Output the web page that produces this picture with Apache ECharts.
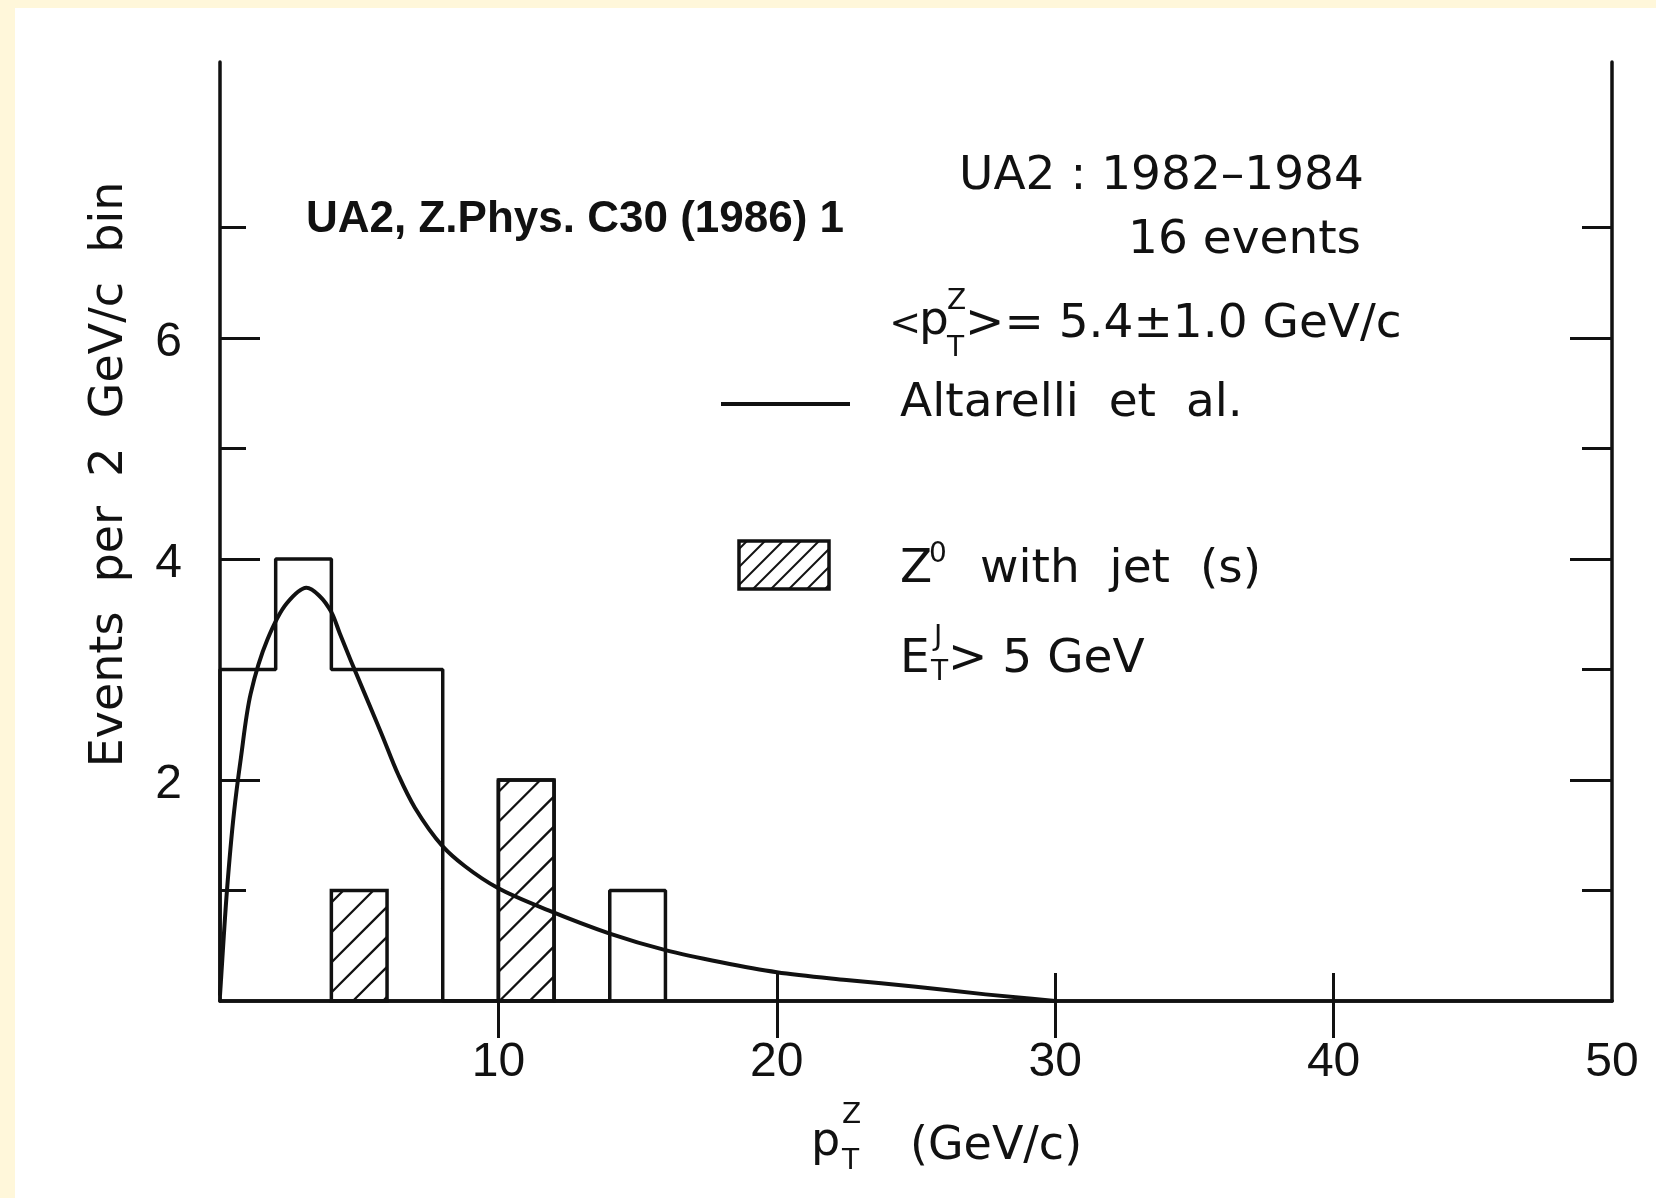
<!DOCTYPE html>
<html>
<head>
<meta charset="utf-8">
<script src="https://cdn.jsdelivr.net/npm/echarts@6/dist/echarts.min.js"></script>
<style>
  html, body { margin: 0; padding: 0; background: #fff; }
  #chart { width: 1656px; height: 1198px; }
</style>
</head>
<body>
<div id="chart"></div>
<script>
// Z0 transverse momentum spectrum, UA2 1982-1984 data, 2 GeV/c bins
const binEdges   = [0, 2, 4, 6, 8, 10, 12, 14, 16];
const allCounts  = [3, 4, 3, 3, 0, 2, 0, 1];      // all 16 events
const jetCounts  = [0, 0, 1, 0, 0, 2, 0, 0];      // events with jet(s), E_T^J > 5 GeV

// Altarelli et al. prediction, events per 2 GeV/c bin
const curveX = [0, 0.25, 0.5, 0.75, 1.1, 1.7, 2.4, 3.1, 3.6, 4.0, 4.3, 4.7, 5.2, 5.8, 6.4, 7.0, 8.0, 8.8, 10.0, 11.8, 14.0, 16.0, 18.0, 20.0, 22.5, 25.0, 27.5, 30.0];
const curveY = [0.05, 1.0, 1.7, 2.2, 2.78, 3.27, 3.6, 3.74, 3.66, 3.52, 3.33, 3.08, 2.78, 2.42, 2.05, 1.75, 1.40, 1.22, 1.02, 0.82, 0.61, 0.46, 0.35, 0.26, 0.19, 0.13, 0.06, 0.0];

// axis ticks and labels
const xTicks  = [10, 20, 30, 40];
const xLabels = [10, 20, 30, 40, 50];
const yMajor  = [2, 4, 6];
const yMinor  = [1, 3, 5, 7];

const INK = '#111';
const CREAM = '#FFF7DA';
const TECH = "'DejaVu Sans', sans-serif";
const DIGITS = "'Liberation Sans', Arial, sans-serif";

// outline of the full histogram as a step path
const histPts = [[binEdges[0], 0]];
allCounts.forEach((c, i) => histPts.push([binEdges[i], c]));
histPts.push([binEdges[binEdges.length - 1], 0]);

// hatched bins: [low edge, high edge, count]
const jetBins = [];
jetCounts.forEach((c, i) => { if (c > 0) jetBins.push([binEdges[i], binEdges[i + 1], c]); });

const curvePts = curveX.map((x, i) => [x, curveY[i]]);

// diagonal "///" hatching inside a rectangle
function hatchLines(L, T, R, B, step, phase, width) {
  const out = [];
  for (let c = L + T + phase; c < R + B; c += step) {
    const xa = Math.max(L, c - B), xb = Math.min(R, c - T);
    if (xb - xa > 1) {
      out.push({ type: 'line', shape: { x1: xa, y1: c - xa, x2: xb, y2: c - xb },
                 style: { stroke: INK, lineWidth: width } });
    }
  }
  return out;
}

// centripetal Catmull-Rom spline through pixel points, as SVG path data
function splinePath(P) {
  const n = P.length;
  const get = (i) => {
    if (i < 0) return [2 * P[0][0] - P[1][0], 2 * P[0][1] - P[1][1]];
    if (i >= n) return [2 * P[n - 1][0] - P[n - 2][0], 2 * P[n - 1][1] - P[n - 2][1]];
    return P[i];
  };
  const dist = (a, b) => Math.sqrt(Math.hypot(b[0] - a[0], b[1] - a[1])) || 1e-6;
  let d = 'M' + P[0][0] + ' ' + P[0][1];
  for (let i = 0; i < n - 1; i++) {
    const p0 = get(i - 1), p1 = get(i), p2 = get(i + 1), p3 = get(i + 2);
    const d1 = dist(p0, p1), d2 = dist(p1, p2), d3 = dist(p2, p3);
    const c1 = [0, 1].map(k => (d1 * d1 * p2[k] - d2 * d2 * p0[k] + (2 * d1 * d1 + 3 * d1 * d2 + d2 * d2) * p1[k]) / (3 * d1 * (d1 + d2)));
    const c2 = [0, 1].map(k => (d3 * d3 * p1[k] - d2 * d2 * p3[k] + (2 * d3 * d3 + 3 * d3 * d2 + d2 * d2) * p2[k]) / (3 * d3 * (d3 + d2)));
    d += ' C' + c1[0] + ' ' + c1[1] + ' ' + c2[0] + ' ' + c2[1] + ' ' + p2[0] + ' ' + p2[1];
  }
  return d;
}

function txt(str, x, y, size, family, weight, align) {
  const a = align || 'left';
  return {
    type: 'text', x: x, y: y, silent: true,
    style: {
      text: str, fill: INK,
      font: (weight || 'normal') + ' ' + size + 'px ' + (family || TECH),
      textAlign: a, textVerticalAlign: 'middle',
      align: a, verticalAlign: 'middle'
    }
  };
}

const axisLineStyle = { color: INK, width: 3.5 };
const tickStyle = { color: INK, width: 3 };

const chart = echarts.init(document.getElementById('chart'), null, { renderer: 'canvas' });

chart.setOption({
  animation: false,
  backgroundColor: '#fff',
  grid: { left: 220, right: 44, top: 62, bottom: 197 },
  xAxis: [
    {
      type: 'value', min: 0, max: 50, position: 'bottom',
      axisLine: { lineStyle: axisLineStyle },
      axisTick: { inside: true, length: 28, customValues: xTicks, lineStyle: tickStyle },
      axisLabel: { customValues: xLabels, margin: 38, fontFamily: DIGITS, fontSize: 48, color: INK },
      splitLine: { show: false }
    },
    {
      type: 'value', min: 0, max: 50, position: 'top',
      axisLine: { lineStyle: axisLineStyle },
      axisTick: { inside: true, length: 37, customValues: xTicks, lineStyle: tickStyle },
      axisLabel: { show: false, customValues: xTicks },
      splitLine: { show: false }
    }
  ],
  yAxis: [
    {
      type: 'value', min: 0, max: 8.5, position: 'left', offset: 0,
      axisLine: { lineStyle: axisLineStyle },
      axisTick: { inside: true, length: 40, customValues: yMajor, lineStyle: tickStyle },
      axisLabel: { customValues: yMajor, margin: 38, fontFamily: DIGITS, fontSize: 48, color: INK,
                   verticalAlign: 'top', lineHeight: 10 },
      splitLine: { show: false },
      name: 'Events  per  2  GeV/c  bin',
      nameLocation: 'middle', nameRotate: 90, nameGap: 87,
      nameTextStyle: { fontFamily: TECH, fontSize: 46, color: INK, padding: [0, 0, 0, 114] }
    },
    {
      type: 'value', min: 0, max: 8.5, position: 'left', offset: 0,
      axisLine: { show: false },
      axisTick: { inside: true, length: 26, customValues: yMinor, lineStyle: tickStyle },
      axisLabel: { show: false, customValues: yMinor },
      splitLine: { show: false }
    },
    {
      type: 'value', min: 0, max: 8.5, position: 'right', offset: 0,
      axisLine: { lineStyle: axisLineStyle },
      axisTick: { inside: true, length: 42, customValues: yMajor, lineStyle: tickStyle },
      axisLabel: { show: false, customValues: yMajor },
      splitLine: { show: false }
    },
    {
      type: 'value', min: 0, max: 8.5, position: 'right', offset: 0,
      axisLine: { show: false },
      axisTick: { inside: true, length: 30, customValues: yMinor, lineStyle: tickStyle },
      axisLabel: { show: false, customValues: yMinor },
      splitLine: { show: false }
    }
  ],
  series: [
    {
      name: 'Z0 with jet (s)',
      type: 'custom', z: 2,
      encode: { x: [0, 1], y: 2 },
      data: jetBins,
      renderItem: function (params, api) {
        const p0 = api.coord([api.value(0), 0]);
        const p1 = api.coord([api.value(1), api.value(2)]);
        const L = p0[0], R = p1[0], T = p1[1], B = p0[1];
        const kids = hatchLines(L, T, R, B, 30, 12, 2.3);
        kids.push({ type: 'rect', shape: { x: L, y: T, width: R - L, height: B - T },
                    style: { fill: 'none', stroke: INK, lineWidth: 3.5 } });
        return { type: 'group', children: kids };
      }
    },
    {
      name: 'all events',
      type: 'line', z: 3,
      data: histPts, step: 'end', symbol: 'none',
      lineStyle: { color: INK, width: 3.5 }
    },
    {
      name: 'Altarelli et al.',
      type: 'custom', z: 4,
      encode: { x: 0, y: 1 },
      data: curvePts,
      renderItem: function (params, api) {
        if (params.dataIndex !== 0) return null;
        const px = curvePts.map(p => api.coord(p));
        return {
          type: 'path',
          shape: { pathData: splinePath(px) },
          style: { fill: 'none', stroke: INK, lineWidth: 4, lineJoin: 'round' }
        };
      }
    }
  ],
  graphic: [
    { type: 'rect', silent: true, z: -10, shape: { x: 0, y: 0, width: 1656, height: 8 }, style: { fill: CREAM } },
    { type: 'rect', silent: true, z: -10, shape: { x: 0, y: 0, width: 15, height: 1198 }, style: { fill: CREAM } },

    txt('UA2, Z.Phys. C30 (1986) 1', 306, 220, 44, "'Liberation Sans', Arial, sans-serif", 'bold'),

    txt('UA2 : 1982\u20131984', 959, 177, 47),
    txt('16 events', 1128, 241, 47),

    txt('<', 921, 325, 38, TECH, 'normal', 'right'),
    txt('p', 919, 322, 47),
    txt('Z', 947, 302, 28),
    txt('T', 947, 349, 28),
    txt('>= 5.4\u00b11.0 GeV/c', 965, 325, 47),

    { type: 'line', silent: true, shape: { x1: 721, y1: 404, x2: 850, y2: 404 }, style: { stroke: INK, lineWidth: 4 } },
    txt('Altarelli  et  al.', 900, 404, 47),

    { type: 'group', silent: true,
      children: hatchLines(739, 541, 829, 589, 18, 8, 2).concat([
        { type: 'rect', shape: { x: 739, y: 541, width: 90, height: 48 }, style: { fill: 'none', stroke: INK, lineWidth: 3.5 } }
      ]) },
    txt('Z', 900, 570, 47),
    txt('0', 929, 555, 28),
    txt('with  jet  (s)', 980, 570, 47),

    txt('E', 900, 660, 47),
    txt('J', 934, 638, 28),
    txt('T', 931, 673, 28),
    txt('> 5 GeV', 948, 660, 47),

    // x-axis title
    txt('p', 811, 1143, 46),
    txt('Z', 842, 1116, 28),
    txt('T', 842, 1162, 28),
    txt('(GeV/c)', 910, 1147, 46)
  ]
});
</script>
</body>
</html>
